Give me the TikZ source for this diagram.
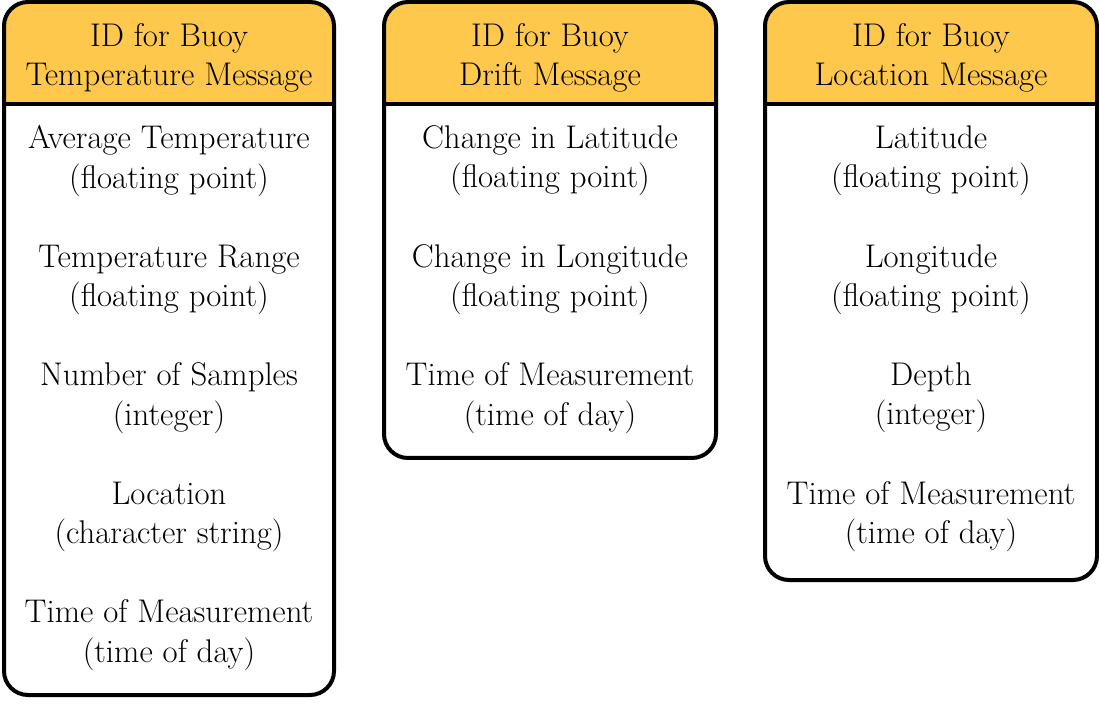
\documentclass[tikz,border=0pt]{standalone}
\usepackage{tikz}
\definecolor{headyellow}{HTML}{FEC84C}
\begin{document}
\begin{tikzpicture}[x=0.5pt,y=-0.5pt]
        \tikzstyle{every node} = [font=\fontsize{16.4}{19.6}\selectfont, align=center]
        \tikzstyle{frame} = [draw, line width=2pt, rounded corners=12pt]
        \useasboundingbox (0,0) rectangle (1099,711);

        % message boxes with yellow heads
        \foreach \l/\r/\b in {4/334/695, 384/716/458, 765/1097/580} {
            \begin{scope}
                \clip[rounded corners=12pt] (\l,2) rectangle (\r,\b);
                \fill[headyellow] (\l,2) rectangle (\r,104);
            \end{scope}
            \draw[frame] (\l,2) rectangle (\r,\b);
            \draw[line width=2pt] (\l,104) -- (\r,104);
        }

        \node (temphead) at (169,58) {ID for Buoy\\Temperature Message};
        \node (drifthead) at (550,58) {ID for Buoy\\Drift Message};
        \node (lochead) at (931,58) {ID for Buoy\\Location Message};

        \foreach \txt [count=\i] in {{Average Temperature\\(floating point)},
                {Temperature Range\\(floating point)}, {Number of Samples\\(integer)},
                {Location\\(character string)}, {Time of Measurement\\(time of day)}}
            \node (temp\i) at (169,{161+118.5*(\i-1)}) {\txt};

        \foreach \txt [count=\i] in {{Change in Latitude\\(floating point)},
                {Change in Longitude\\(floating point)}, {Time of Measurement\\(time of day)}}
            \node (drift\i) at (550,{161+118.5*(\i-1)}) {\txt};

        \foreach \txt [count=\i] in {{Latitude\\(floating point)}, {Longitude\\(floating point)},
                {Depth\\(integer)}, {Time of Measurement\\(time of day)}}
            \node (loc\i) at (931,{161+118.5*(\i-1)}) {\txt};
\end{tikzpicture}
\end{document}
